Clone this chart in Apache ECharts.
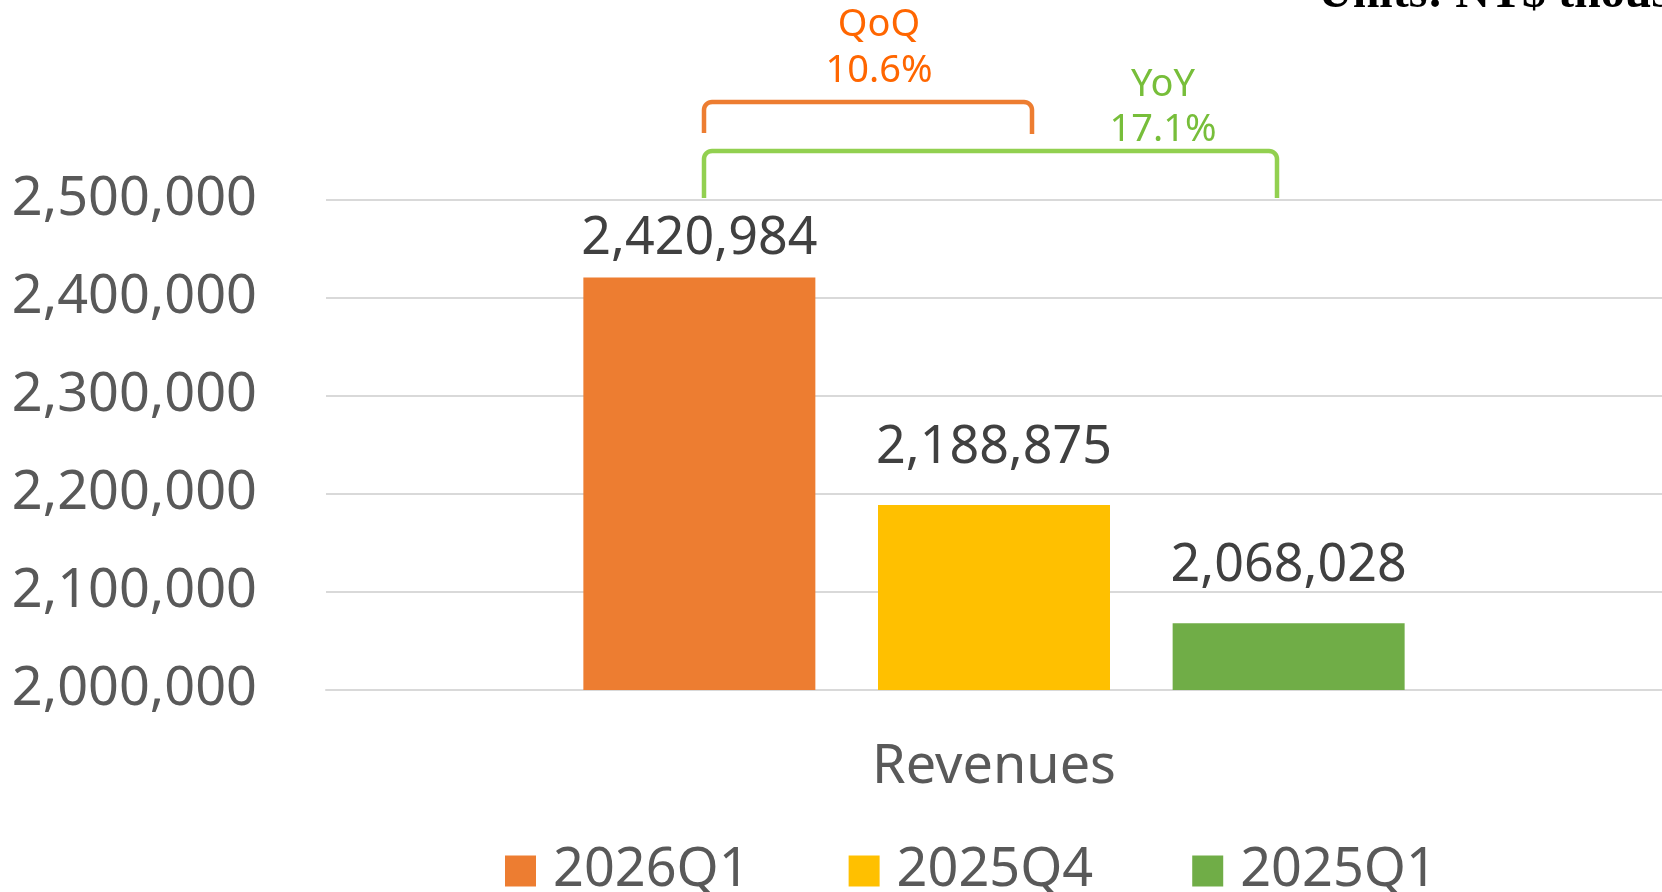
<!DOCTYPE html>
<html>
<head>
<meta charset="utf-8">
<script src="https://cdn.jsdelivr.net/npm/echarts@6/dist/echarts.min.js"></script>
<style>
  html, body { margin: 0; padding: 0; background: #fff; }
  #main { width: 1662px; height: 892px; }
</style>
</head>
<body>
<div id="main"></div>
<script>
// data
const categories = ['Revenues']
const seriesNames = ['2026Q1', '2025Q4', '2025Q1']
const revenues = [2420984, 2188875, 2068028]
const yTicks = [2000000, 2100000, 2200000, 2300000, 2400000, 2500000]

const colors = ['#ED7D31', '#FFC000', '#70AD47']
const fmt = v => Number(v).toLocaleString('en-US')

// QoQ / YoY from the values
const qoq = ((revenues[0] / revenues[1] - 1) * 100).toFixed(1) + '%'
const yoy = ((revenues[0] / revenues[2] - 1) * 100).toFixed(1) + '%'

// bracket with rounded corners
function bracket(x1, x2, top, bottom1, bottom2, r) {
  const pts = [[x1, bottom1]]
  for (let i = 0; i <= 8; i++) {
    const a = Math.PI - (i / 8) * Math.PI / 2
    pts.push([x1 + r + r * Math.cos(a), top + r - r * Math.sin(a)])
  }
  for (let i = 0; i <= 8; i++) {
    const a = Math.PI / 2 - (i / 8) * Math.PI / 2
    pts.push([x2 - r + r * Math.cos(a), top + r - r * Math.sin(a)])
  }
  pts.push([x2, bottom2])
  return pts
}

const chart = echarts.init(document.getElementById('main'))

const font = '"Noto Sans", "Open Sans", sans-serif'

chart.setOption({
  animation: false,
  textStyle: { fontFamily: font },
  grid: { left: 326, right: 0, top: 200, bottom: 202 },
  legend: {
    left: 500,
    top: 839,
    itemWidth: 31,
    itemHeight: 31,
    itemGap: 99,
    icon: 'rect',
    data: seriesNames,
    textStyle: { fontSize: 54, color: '#595959', fontFamily: font, padding: [0, 0, 0, 12] }
  },
  xAxis: {
    type: 'category',
    data: categories,
    axisTick: { show: false },
    axisLine: { lineStyle: { color: '#D9D9D9', width: 2 } },
    axisLabel: { fontSize: 54, color: '#595959', margin: 51, fontFamily: font }
  },
  yAxis: {
    type: 'value',
    min: yTicks[0],
    max: yTicks[yTicks.length - 1],
    interval: 100000,
    axisLine: { show: false },
    axisTick: { show: false },
    splitLine: { lineStyle: { color: '#D9D9D9', width: 2 } },
    axisLabel: { fontSize: 54, color: '#595959', margin: 69, formatter: fmt, fontFamily: font, padding: [4, 0, 0, 0] }
  },
  series: seriesNames.map((name, i) => ({
    name,
    type: 'bar',
    data: [revenues[i]],
    barWidth: 232,
    barGap: '27%',
    itemStyle: { color: colors[i] },
    label: {
      show: true,
      position: 'top',
      distance: i === 0 ? 12 : 31,
      fontSize: 52,
      color: '#404040',
      fontFamily: font,
      formatter: p => fmt(p.value)
    }
  })),
  graphic: [
    {
      type: 'polyline',
      shape: { points: bracket(704, 1032, 102, 133, 134, 8) },
      style: { stroke: '#ED7D31', lineWidth: 4.5, fill: null }
    },
    {
      type: 'polyline',
      shape: { points: bracket(704, 1277, 151, 198, 198, 8) },
      style: { stroke: '#92D050', lineWidth: 4.5, fill: null }
    },
    {
      type: 'text',
      x: 879,
      y: 48,
      style: {
        text: 'QoQ\n' + qoq,
        font: '38px ' + font,
        fill: '#FF6600',
        align: 'center',
        verticalAlign: 'middle',
        lineHeight: 46
      }
    },
    {
      type: 'text',
      x: 1163,
      y: 108,
      style: {
        text: 'YoY\n' + yoy,
        font: '38px ' + font,
        fill: '#77BE3A',
        align: 'center',
        verticalAlign: 'middle',
        lineHeight: 45
      }
    },
    {
      type: 'text',
      x: 1318,
      y: -5,
      style: {
        text: 'Units: NT$ thousand',
        font: 'bold 48px "Liberation Serif", serif',
        fill: '#000',
        align: 'left',
        verticalAlign: 'middle'
      }
    }
  ]
})
</script>
</body>
</html>
